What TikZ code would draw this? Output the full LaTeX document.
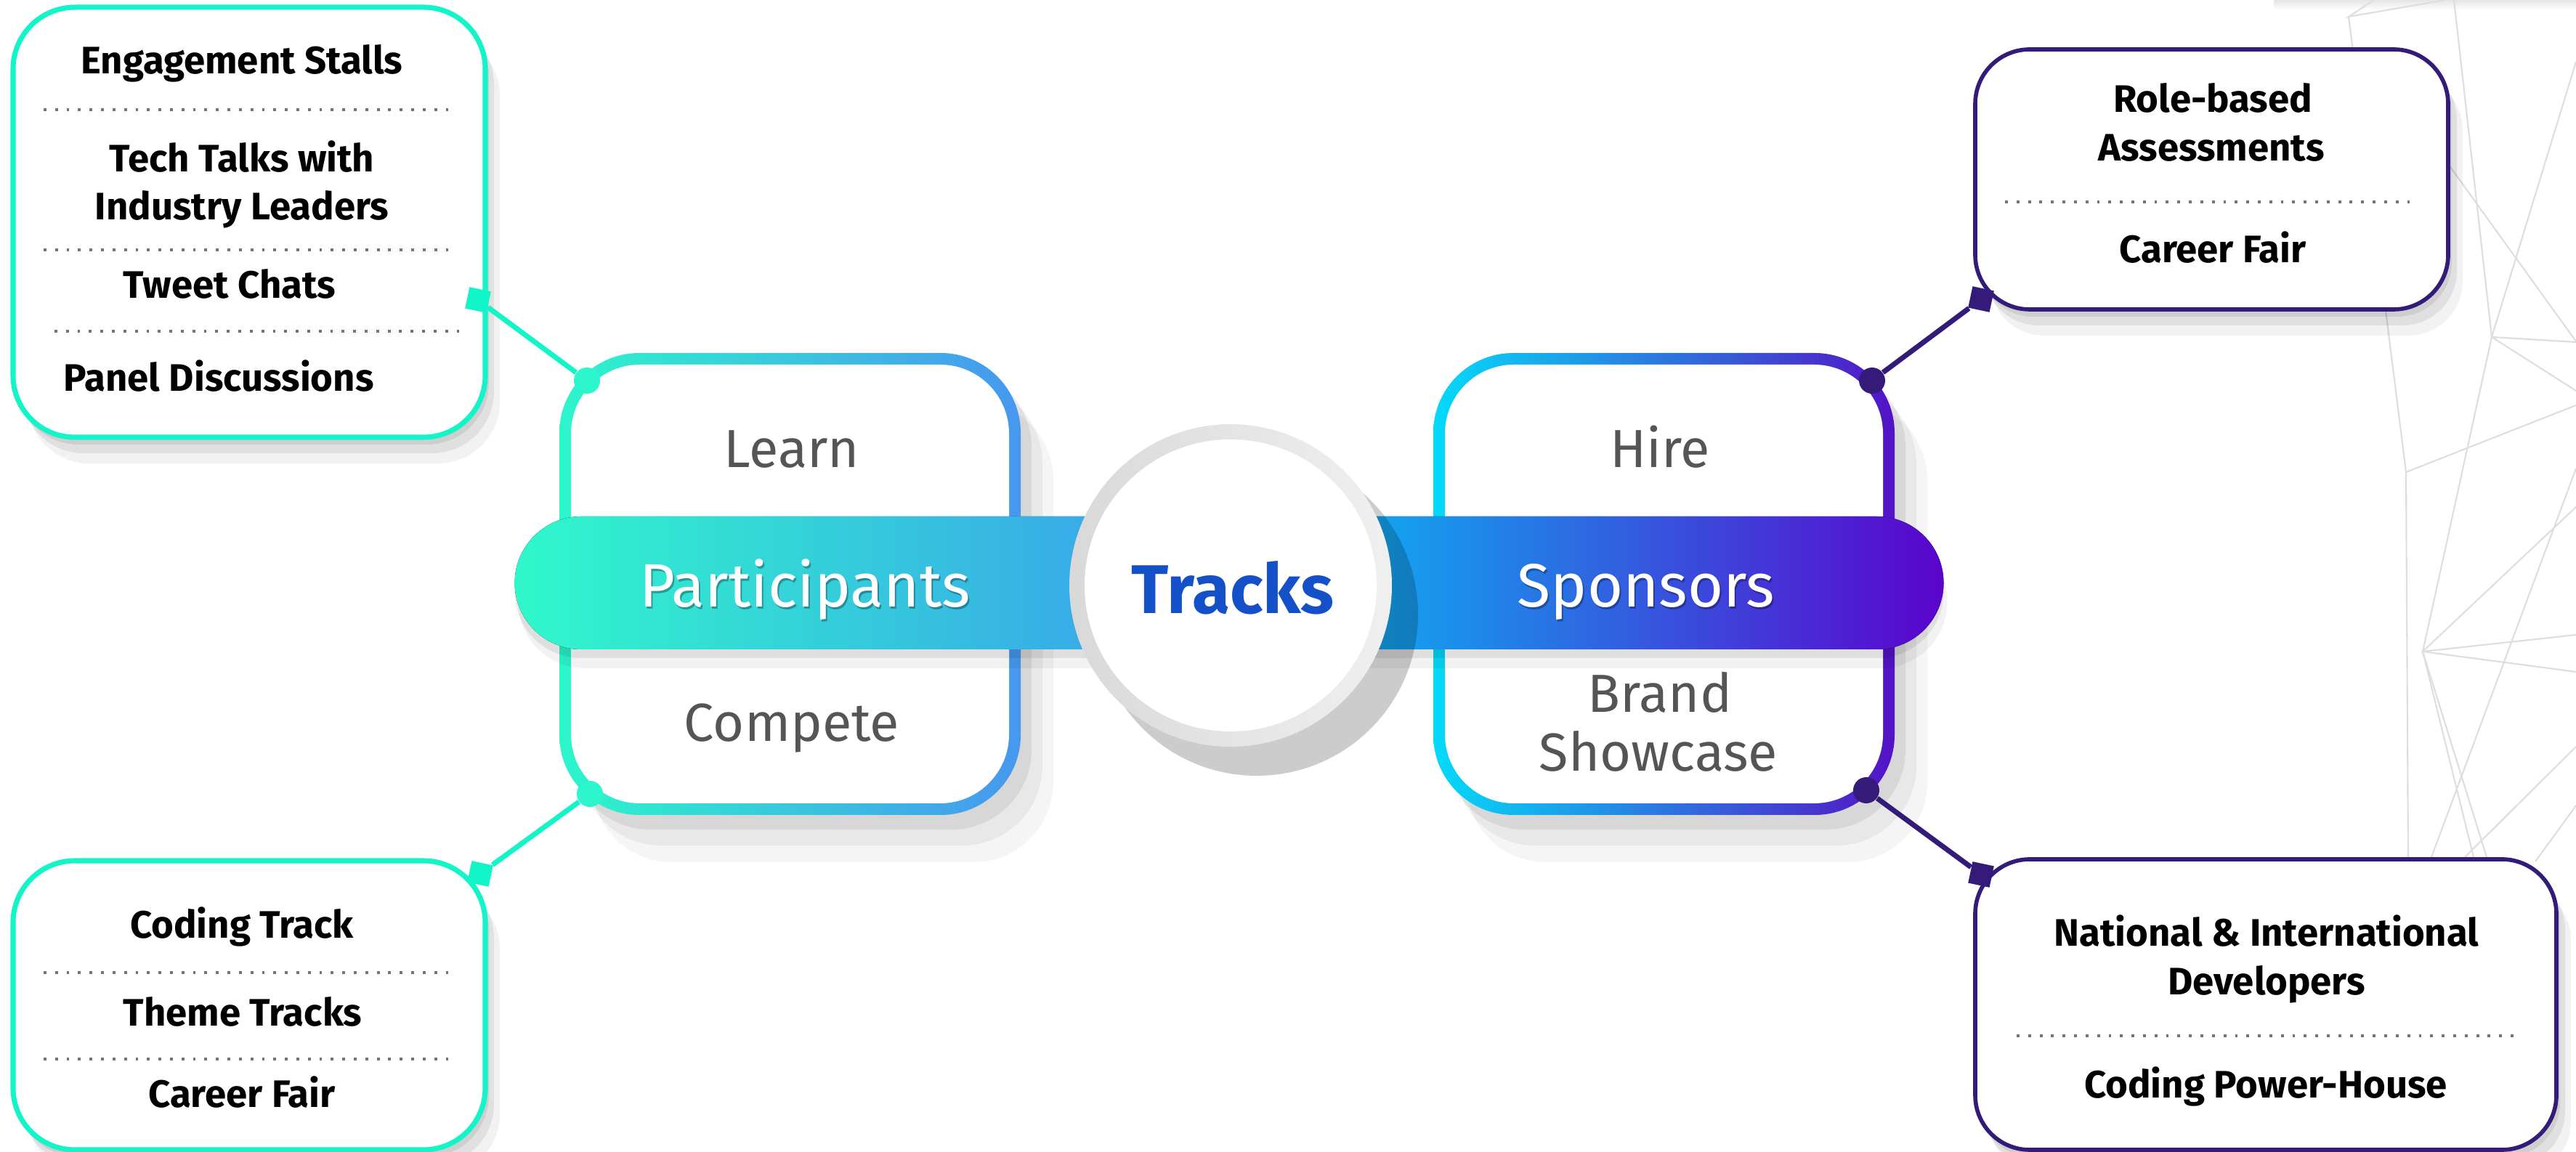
\documentclass[tikz,border=0pt]{standalone}
\usepackage{fontspec}
\setmainfont{Fira Sans}
\usetikzlibrary{shadows}

\definecolor{mint}{HTML}{12F5C8}
\definecolor{indigo}{HTML}{341B7A}
\definecolor{pleft}{HTML}{2CF6CB}
\definecolor{pright}{HTML}{4797EF}
\definecolor{sleft}{HTML}{04DAF8}
\definecolor{sright}{HTML}{5412C6}
\definecolor{pbarL}{HTML}{30F8CB}
\definecolor{pbarR}{HTML}{3A98EE}
\definecolor{sbarL}{HTML}{00CEF8}
\definecolor{sbarR}{HTML}{5A03CC}
\definecolor{cardtext}{HTML}{555555}
\definecolor{hubblue}{HTML}{1450C8}
\definecolor{meshgray}{HTML}{DEDEDE}

\tikzset{
  boxshadow/.style={drop shadow={shadow xshift=0.05cm,shadow yshift=-0.1cm,opacity=0.08,fill=black},
                    drop shadow={shadow xshift=0.12cm,shadow yshift=-0.22cm,opacity=0.07,fill=black},
                    drop shadow={shadow xshift=0.2cm,shadow yshift=-0.36cm,opacity=0.05,fill=black}},
  cardshadow/.style={drop shadow={shadow xshift=0.15cm,shadow yshift=-0.2cm,opacity=0.07,fill=black},
                     drop shadow={shadow xshift=0.3cm,shadow yshift=-0.42cm,opacity=0.05,fill=black},
                     drop shadow={shadow xshift=0.45cm,shadow yshift=-0.65cm,opacity=0.04,fill=black}},
  barshadow/.style={drop shadow={shadow xshift=0cm,shadow yshift=-0.12cm,opacity=0.08,fill=black},
                    drop shadow={shadow xshift=0.05cm,shadow yshift=-0.26cm,opacity=0.05,fill=black}},
  learnbox/.style={boxshadow, draw=mint, line width=2pt, fill=white, rounded corners=0.85cm, inner sep=0pt},
  hirebox/.style={boxshadow, draw=indigo, line width=1.6pt, fill=white, rounded corners=0.75cm, inner sep=0pt},
  item/.style={font=\bfseries\fontsize{15}{18}\selectfont, anchor=base, inner sep=0pt},
  divider/.style={draw=black!55, line width=1.1pt, dash pattern=on 1.1pt off 3.4pt},
  card/.style={cardshadow, rounded corners=1.1cm, minimum width=6.35cm, minimum height=6.36cm, inner sep=0pt},
  cardin/.style={fill=white, rounded corners=0.95cm, minimum width=6.03cm, minimum height=6.04cm, inner sep=0pt},
  cardtxt/.style={font=\fontsize{21}{23}\selectfont, text=cardtext, anchor=base, inner sep=0pt},
  bartxt/.style={font=\fontsize{24}{26}\selectfont, text=white, anchor=base, inner sep=0pt},
  hubtxt/.style={font=\bfseries\fontsize{27}{30}\selectfont, text=hubblue, anchor=base, inner sep=0pt},
  pdot/.style={circle, fill=pleft, minimum size=0.36cm, inner sep=0pt},
  sdot/.style={circle, fill=indigo, minimum size=0.36cm, inner sep=0pt},
  pjoin/.style={draw=mint, line width=2pt},
  sjoin/.style={draw=indigo, line width=2pt},
  psq/.style={fill=mint, minimum size=0.3cm, inner sep=0pt, rotate=-12},
  ssq/.style={fill=indigo, minimum size=0.3cm, inner sep=0pt, rotate=-12},
  mesh/.style={draw=meshgray, line width=0.6pt}
}

\begin{document}
\begin{tikzpicture}
  \useasboundingbox (0,0) rectangle (35.46,-15.86);
  \fill[white] (0,0) rectangle (35.46,-15.86);

  % faint mesh on the right
  \fill[top color=black!10, bottom color=white] (31.3,0) rectangle (35.46,-0.14);
  \draw[mesh] (32.68,0) -- (32.33,-0.23) -- (33.66,0);
  \draw[mesh] (32.33,-0.23) -- (33.12,-6.50) -- (33.15,-11.80);
  \draw[mesh] (33.78,0) -- (34.30,-4.64) -- (35.46,-4.71);
  \draw[mesh] (35.46,-0.85) -- (34.30,-4.64) -- (33.35,-8.97);
  \draw[mesh] (34.30,-4.64) -- (35.46,-5.38);
  \draw[mesh] (33.12,-6.50) -- (35.46,-5.58);
  \draw[mesh] (33.73,-2.30) -- (35.46,-4.70);
  \draw[mesh] (35.46,-6.98) -- (33.35,-8.97) -- (35.46,-8.74);
  \draw[mesh] (35.46,-9.25) -- (33.35,-8.97) -- (34.23,-11.80);
  \draw[mesh] (33.35,-8.97) -- (34.05,-11.80);
  \draw[mesh] (35.46,-10.28) -- (33.93,-11.80);
  \draw[mesh] (35.46,-11.09) -- (34.90,-11.86);
  \draw[mesh] (35.46,-6.45) -- (33.47,-11.80);

  % cards
  \node[card, left color=pleft, right color=pright] (pcard) at (10.875,-8.04) {};
  \node[cardin] (pcardin) at (pcard) {};
  \node[card, left color=sleft, right color=sright] (scard) at (22.905,-8.04) {};
  \node[cardin] (scardin) at (scard) {};

  % bars
  \fill[left color=pbarL, right color=pbarR, barshadow] (16.94,-7.11) -- (8.00,-7.11)
    arc[start angle=90, end angle=270, radius=0.915] -- (16.94,-8.94) -- cycle;
  \fill[left color=sbarL, right color=sbarR, barshadow] (16.94,-7.11) -- (25.84,-7.11)
    arc[start angle=90, end angle=-90, radius=0.915] -- (16.94,-8.94) -- cycle;

  % hub
  \fill[black, opacity=0.2] (17.30,-8.46) circle (2.22);
  \node[circle, minimum size=4.44cm, inner sep=0pt, left color=black!15, right color=black!6] (hub) at (16.94,-8.06) {};
  \node[circle, fill=white, minimum size=4.02cm, inner sep=0pt] (hubin) at (hub) {};
  \node[hubtxt] (tracks) at (16.97,-8.45) {Tracks};

  \node[cardtxt] (learn) at (10.90,-6.44) {Learn};
  \node[cardtxt] (compete) at (10.90,-10.21) {Compete};
  \node[bartxt, text=black, opacity=0.3] at (11.10,-8.39) {Participants};
  \node[bartxt] (participants) at (11.08,-8.36) {Participants};
  \node[cardtxt] (hire) at (22.85,-6.44) {Hire};
  \node[cardtxt] (brand) at (22.85,-9.81) {Brand};
  \node[cardtxt] (showcase) at (22.83,-10.62) {Showcase};
  \node[bartxt, text=black, opacity=0.3] at (22.68,-8.39) {Sponsors};
  \node[bartxt] (sponsors) at (22.66,-8.36) {Sponsors};

  % side boxes
  \node[learnbox, minimum width=6.50cm, minimum height=5.92cm] (learnbox) at (3.43,-3.06) {};
  \node[item] (stalls) at (3.33,-1.02) {Engagement Stalls};
  \draw[divider] (0.60,-1.51) -- (6.22,-1.51);
  \node[item] (talks) at (3.33,-2.37) {Tech Talks with};
  \node[item] (leaders) at (3.33,-3.03) {Industry Leaders};
  \draw[divider] (0.60,-3.44) -- (6.22,-3.44);
  \node[item] (tweets) at (3.16,-4.11) {Tweet Chats};
  \draw[divider] (0.75,-4.56) -- (6.38,-4.56);
  \node[item] (panels) at (3.01,-5.39) {Panel Discussions};

  \node[learnbox, minimum width=6.50cm, minimum height=3.98cm] (competebox) at (3.43,-13.84) {};
  \node[item] (codingtrack) at (3.33,-12.92) {Coding Track};
  \draw[divider] (0.60,-13.39) -- (6.22,-13.39);
  \node[item] (themes) at (3.34,-14.13) {Theme Tracks};
  \draw[divider] (0.60,-14.58) -- (6.22,-14.58);
  \node[item] (pfair) at (3.33,-15.25) {Career Fair};

  \node[hirebox, minimum width=6.51cm, minimum height=3.58cm] (hirebox) at (30.445,-2.47) {};
  \node[item] (role) at (30.46,-1.55) {Role-based};
  \node[item] (assess) at (30.44,-2.22) {Assessments};
  \draw[divider] (27.60,-2.78) -- (33.24,-2.78);
  \node[item] (sfair) at (30.46,-3.62) {Career Fair};

  \node[hirebox, minimum width=8.00cm, minimum height=4.00cm] (brandbox) at (31.19,-13.83) {};
  \node[item] (national) at (31.20,-13.03) {National \& International};
  \node[item] (devs) at (31.20,-13.70) {Developers};
  \draw[divider] (27.76,-14.26) -- (34.67,-14.26);
  \node[item] (power) at (31.19,-15.12) {Coding Power-House};

  % joints
  \node[pdot] (learndot) at (8.08,-5.24) {};
  \node[pdot] (competedot) at (8.12,-10.93) {};
  \node[sdot] (hiredot) at (25.77,-5.24) {};
  \node[sdot] (branddot) at (25.69,-10.88) {};
  \node[psq] (learnsq) at (6.58,-4.13) {};
  \node[psq] (competesq) at (6.61,-12.03) {};
  \node[ssq] (hiresq) at (27.27,-4.12) {};
  \node[ssq] (brandsq) at (27.27,-12.04) {};
  \draw[pjoin] (learndot) -- (learnsq);
  \draw[pjoin] (competedot) -- (competesq);
  \draw[sjoin] (hiredot) -- (hiresq);
  \draw[sjoin] (branddot) -- (brandsq);

\end{tikzpicture}
\end{document}
